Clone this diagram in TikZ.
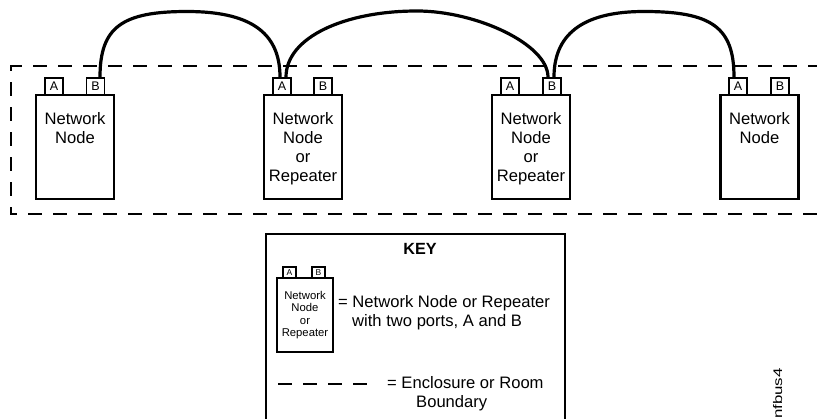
\documentclass[tikz,border=0pt]{standalone}
\usepackage{fontspec}
\setmainfont{Liberation Sans}
\begin{document}
\begin{tikzpicture}[x=1pt,y=-1pt,
  unitbox/.style={draw, line width=2.3pt, minimum width=78pt, minimum height=104pt, inner sep=0pt},
  port/.style={draw, line width=1.8pt, minimum width=18pt, minimum height=17pt, inner sep=0pt, font=\fontsize{12.5}{12.5}\selectfont},
  boxtext/.style={align=center, inner sep=0pt, font=\fontsize{16.6}{19}\selectfont},
  keybox/.style={draw, line width=1.9pt, minimum width=56pt, minimum height=74pt, inner sep=0pt},
  keyport/.style={draw, line width=1.5pt, minimum width=13pt, minimum height=11pt, inner sep=0pt, font=\fontsize{8.5}{8.5}\selectfont},
  keytext/.style={align=center, inner sep=0pt, font=\fontsize{11.3}{12.3}\selectfont},
  body/.style={inner sep=0pt, anchor=base west, font=\fontsize{16.6}{19}\selectfont},
  cable/.style={line width=3.2pt},
  boundary/.style={line width=2.5pt, line cap=rect, dash pattern=on 11.6pt off 13.4pt},
]
\useasboundingbox (0,0) rectangle (817,419);

% enclosure boundary
\draw[boundary, dash phase=1.8pt] (11,66) -- (830,66);
\draw[boundary, dash phase=7.8pt] (11,66) -- (11,214);
\draw[boundary, dash phase=6.8pt] (11,214) -- (830,214);

% units
\node[unitbox] (n1) at (75,147) {};
\node[port] (n1a) at (54,86.5) {A};
\node[port] (n1b) at (95.5,86.5) {B};
\node[boxtext, anchor=north] (n1t) at (75,112) {Network\\Node};

\node[unitbox] (n2) at (303,147) {};
\node[port] (n2a) at (282,86.5) {A};
\node[port] (n2b) at (323,86.5) {B};
\node[boxtext, anchor=north] (n2t) at (303,112) {Network\\Node\\or\\Repeater};

\node[unitbox] (n3) at (531,147) {};
\node[port] (n3a) at (510,86.5) {A};
\node[port] (n3b) at (552,86.5) {B};
\node[boxtext, anchor=north] (n3t) at (531,112) {Network\\Node\\or\\Repeater};

\node[unitbox] (n4) at (759.5,147) {};
\node[port] (n4a) at (738,86.5) {A};
\node[port] (n4b) at (780,86.5) {B};
\node[boxtext, anchor=north] (n4t) at (759.5,112) {Network\\Node};

% cables
\coordinate (c1s) at ([xshift=4.5pt]n1b.north);
\coordinate (c1e) at ([xshift=-2pt]n2a.north);
\coordinate (t1) at (187,11.5);
\coordinate (c2s) at ([xshift=4pt]n2a.north);
\coordinate (c2e) at ([xshift=-4pt]n3b.north);
\coordinate (t2) at (417,11);
\coordinate (c3s) at ([xshift=2pt]n3b.north);
\coordinate (c3e) at ([xshift=-4pt]n4a.north);
\coordinate (t3) at (644,11.5);

\draw[cable] (c1s) .. controls +(0,-50) and +(-65,0) .. (t1)
                   .. controls +(60.5,0) and +(0,-46.5) .. (c1e);
\draw[cable] (c2s) .. controls +(0,-40) and +(-72,0) .. (t2)
                   .. controls +(59,0) and +(0,-33) .. (c2e);
\draw[cable] (c3s) .. controls +(0,-46.5) and +(-56,0) .. (t3)
                   .. controls +(67.5,0) and +(0,-50) .. (c3e);

% key
\draw[line width=2.6pt] (266,430) -- (266,234) -- (565,234) -- (565,430);
\node[inner sep=0pt, anchor=base, font=\bfseries\fontsize{16.2}{19}\selectfont] (keyt) at (420,255) {KEY};
\node[keybox] (k) at (305,315) {};
\node[keyport] (ka) at (289.5,272.5) {A};
\node[keyport] (kb) at (318.5,272.5) {B};
\node[keytext, anchor=north] (kt) at (305,291.3) {Network\\Node\\or\\Repeater};
\node[body] (d1) at (338,308) {= Network Node or Repeater};
\node[body] (d2) at (352,327) {with two ports, A and B};
\coordinate (ls) at (278,384);
\coordinate (le) at (367,384);
\draw[line width=2.5pt, dash pattern=on 14pt off 11pt] (ls) -- (le);
\node[body] (d3) at (387,389) {= Enclosure or Room};
\node[body] (d4) at (416,408) {Boundary};

% figure code
\node[rotate=90, anchor=base east, inner sep=0pt, font=\fontsize{12.5}{12.5}\selectfont] (code) at (782,368) {\scalebox{1.35}[1]{nfbus4}};
\end{tikzpicture}
\end{document}
